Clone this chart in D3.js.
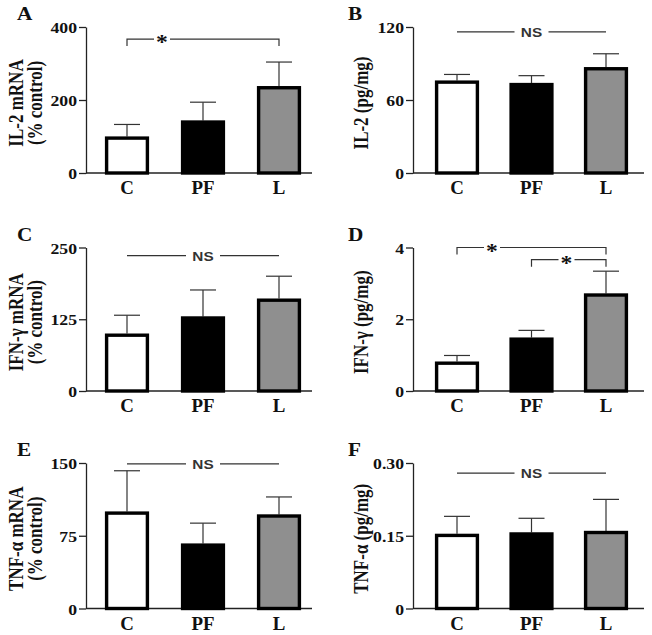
<!DOCTYPE html>
<html><head><meta charset="utf-8">
<script src="https://cdn.jsdelivr.net/npm/d3@7"></script>
<style>body{margin:0;background:#fff} svg{display:block}</style>
</head><body><svg id="chart" width="652" height="635"></svg>
<script>
// ---- data ----
const categories = ["C", "PF", "L"];
const il2mRNA = [100, 144, 238];
const il2mRNASem = [33, 50, 66];
const il2Protein = [76, 74, 87];
const il2ProteinSem = [5, 6, 11];
const ifnMRNA = [100, 130, 161];
const ifnMRNASem = [32, 46, 39];
const ifnProtein = [0.82, 1.49, 2.72];
const ifnProteinSem = [0.17, 0.20, 0.62];
const tnfMRNA = [100, 67, 97];
const tnfMRNASem = [42, 21, 18];
const tnfProtein = [0.154, 0.157, 0.160];
const tnfProteinSem = [0.036, 0.029, 0.065];

const ticksA = [0, 200, 400];
const ticksB = [0, 60, 120];
const ticksC = [0, 125, 250];
const ticksD = [0, 2, 4];
const ticksE = [0, 75, 150];
const ticksF = [0, 0.15, 0.30];
const tickLabelsF = ["0", "0.15", "0.30"];

const sigA = [{from: "C", to: "L", value: 367, label: "*", type: "bracket"}];
const sigB = [{from: "C", to: "L", value: 116, label: "NS", type: "line"}];
const sigC = [{from: "C", to: "L", value: 236, label: "NS", type: "line"}];
const sigD = [{from: "C", to: "L", value: 4.0, label: "*", type: "bracket"},
              {from: "PF", to: "L", value: 3.66, label: "*", type: "bracket"}];
const sigE = [{from: "C", to: "L", value: 149, label: "NS", type: "line"}];
const sigF = [{from: "C", to: "L", value: 0.279, label: "NS", type: "line"}];

const fills = ["#ffffff", "#000000", "#8f8f8f"];

const panels = [
  {letter: "A", means: il2mRNA, sems: il2mRNASem, ticks: ticksA, labels: null, ylab: ["IL-2 mRNA", "(% control)"], col: 0, row: 0, sig: sigA},
  {letter: "B", means: il2Protein, sems: il2ProteinSem, ticks: ticksB, labels: null, ylab: ["IL-2 (pg/mg)"], col: 1, row: 0, sig: sigB},
  {letter: "C", means: ifnMRNA, sems: ifnMRNASem, ticks: ticksC, labels: null, ylab: ["IFN-\u03b3 mRNA", "(% control)"], col: 0, row: 1, sig: sigC},
  {letter: "D", means: ifnProtein, sems: ifnProteinSem, ticks: ticksD, labels: null, ylab: ["IFN-\u03b3 (pg/mg)"], col: 1, row: 1, sig: sigD},
  {letter: "E", means: tnfMRNA, sems: tnfMRNASem, ticks: ticksE, labels: null, ylab: ["TNF-\u03b1 mRNA", "(% control)"], col: 0, row: 2, sig: sigE},
  {letter: "F", means: tnfProtein, sems: tnfProteinSem, ticks: ticksF, labels: tickLabelsF, ylab: ["TNF-\u03b1 (pg/mg)"], col: 1, row: 2, sig: sigF}
];

// ---- layout ----
const colX = [86, 413];
const colStep = [76, 74.5];
const colEnd = [312, 644];
const colLabelX = [[17, 36], [362]];
const letterX = [17, 348];
const rowY = [[173, 27], [391, 247.5], [608.5, 463]];
const SX = 1.18; // horizontal text stretch of the original figure
const serif = "'Liberation Serif','Times New Roman',serif";
const sans = "'Liberation Sans',Arial,sans-serif";

const svg = d3.select("#chart");

panels.forEach(p => {
  const g = svg.append("g");
  const x0 = colX[p.col], step = colStep[p.col];
  const pi = 1 - 44 / step;
  const po = (p.col === 0 ? 19 : 22) / step;
  const x = d3.scaleBand().domain(categories)
    .range([x0, x0 + step * (3 - pi + 2 * po)])
    .paddingInner(pi).paddingOuter(po);
  const yMax = p.ticks[p.ticks.length - 1];
  const y = d3.scaleLinear().domain([0, yMax]).range(rowY[p.row]);

  // y axis
  const ya = g.append("g").attr("transform", `translate(${x0},0)`)
    .call(d3.axisLeft(y).tickValues(p.ticks).tickSize(7).tickSizeOuter(0).tickPadding(2)
      .tickFormat((d, i) => p.labels ? p.labels[i] : d3.format("d")(d)));
  ya.select(".domain").attr("stroke", "#222").attr("stroke-width", 1.3);
  ya.selectAll(".tick line").attr("stroke", "#222").attr("stroke-width", 1.3);
  ya.selectAll(".tick text")
    .attr("x", null).attr("dy", null)
    .attr("transform", `translate(-9,5.5) scale(${SX},1)`)
    .attr("font-family", serif).attr("font-weight", "bold").attr("font-size", 15).attr("fill", "#111");

  // x axis baseline
  g.append("line").attr("x1", x0).attr("x2", colEnd[p.col])
    .attr("y1", y(0)).attr("y2", y(0)).attr("stroke", "#222").attr("stroke-width", 1.3);
  const xa = g.append("g").attr("transform", `translate(0,${y(0)})`)
    .call(d3.axisBottom(x).tickSize(0).tickPadding(0));
  xa.select(".domain").remove();
  xa.selectAll(".tick text").attr("y", null).attr("dy", null)
    .attr("transform", `translate(0,21) scale(1.05,1)`)
    .attr("font-family", serif).attr("font-weight", "bold").attr("font-size", 18).attr("fill", "#111");

  // error bars (upper only)
  categories.forEach((c, i) => {
    const cx = x(c) + x.bandwidth() / 2;
    const top = p.means[i] + p.sems[i];
    g.append("line").attr("x1", cx).attr("x2", cx)
      .attr("y1", y(p.means[i])).attr("y2", y(top)).attr("stroke", "#333").attr("stroke-width", 1.2);
    g.append("line").attr("x1", cx - 13).attr("x2", cx + 13)
      .attr("y1", y(top)).attr("y2", y(top)).attr("stroke", "#333").attr("stroke-width", 1.2);
  });

  // bars
  g.selectAll("rect.bar").data(p.means).join("rect").attr("class", "bar")
    .attr("x", (d, i) => x(categories[i]) + 1.6)
    .attr("width", x.bandwidth() - 3.2)
    .attr("y", d => y(d) + 1.6)
    .attr("height", d => y(0) - y(d) - 1.6)
    .attr("fill", (d, i) => fills[i])
    .attr("stroke", "#000").attr("stroke-width", 3.4);

  // significance
  p.sig.forEach(s => {
    const xa0 = x(s.from) + x.bandwidth() / 2;
    const xa1 = x(s.to) + x.bandwidth() / 2;
    const yy = y(s.value);
    if (s.type === "bracket") {
      const xs = xa0 + 35;
      g.append("path")
        .attr("d", `M${xa0},${yy + 7}V${yy}H${xs - 8}M${xs + 8},${yy}H${xa1}V${yy + 7}`)
        .attr("fill", "none").attr("stroke", "#333").attr("stroke-width", 1.2);
      g.append("text").attr("transform", `translate(${xs},${yy + 10}) scale(${SX},1)`)
        .attr("text-anchor", "middle").attr("font-family", serif).attr("font-weight", "bold")
        .attr("font-size", 20).attr("fill", "#111").text(s.label);
    } else {
      const xm = (xa0 + xa1) / 2;
      g.append("path")
        .attr("d", `M${xa0},${yy}H${xm - 17}M${xm + 17},${yy}H${xa1}`)
        .attr("fill", "none").attr("stroke", "#333").attr("stroke-width", 1.2);
      g.append("text").attr("transform", `translate(${xm},${yy + 5}) scale(${SX},1)`)
        .attr("text-anchor", "middle").attr("font-family", sans).attr("font-weight", "bold")
        .attr("font-size", 13).attr("fill", "#333").text(s.label);
    }
  });

  // y label
  const ymid = (rowY[p.row][0] + rowY[p.row][1]) / 2 + 3;
  p.ylab.forEach((t, k) => {
    const lx = colLabelX[p.col][k] + 6;
    g.append("text").attr("transform", `translate(${lx},${ymid}) scale(${SX},1) rotate(-90)`)
      .attr("text-anchor", "middle").attr("font-family", serif).attr("font-weight", "bold")
      .attr("font-size", 17).attr("fill", "#111").text(t);
  });

  // panel letter
  g.append("text").attr("transform", `translate(${letterX[p.col]},${rowY[p.row][1] - 7}) scale(${SX},1)`)
    .attr("font-family", serif).attr("font-weight", "bold").attr("font-size", 18).attr("fill", "#111")
    .text(p.letter);
});
</script></body></html>
